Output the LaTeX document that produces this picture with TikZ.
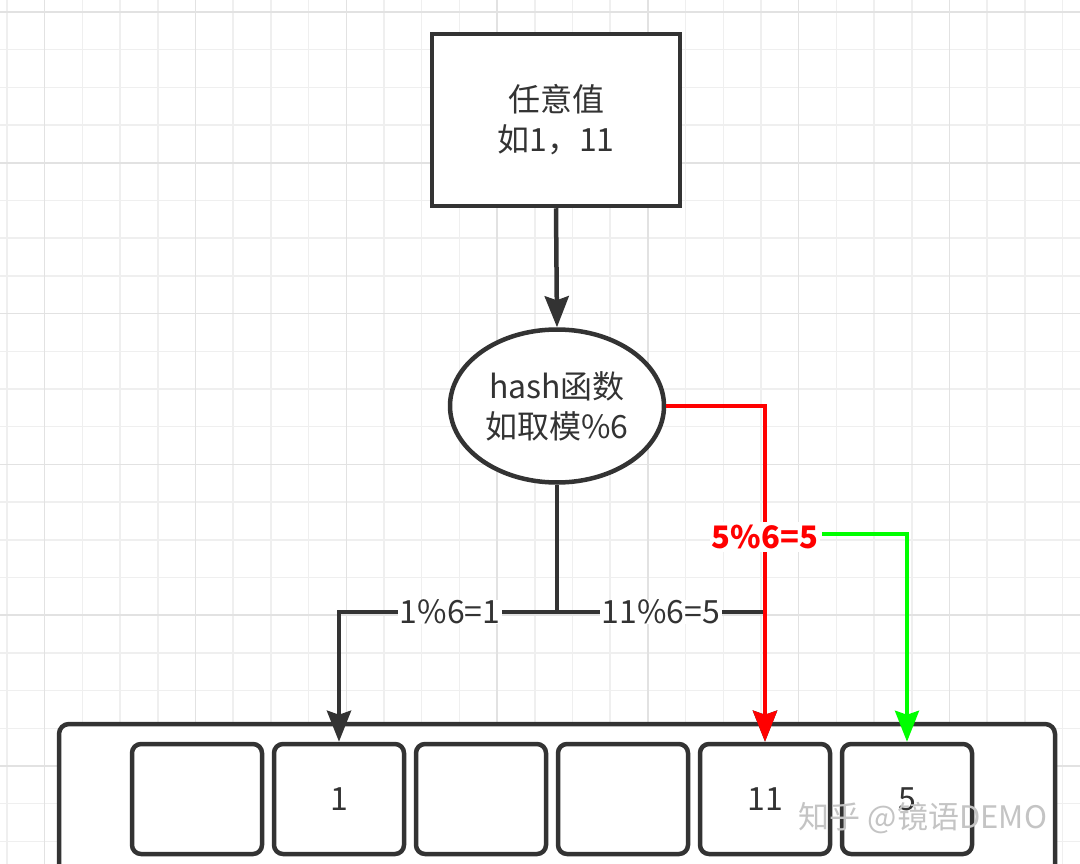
\documentclass[tikz,border=0pt]{standalone}
\usepackage{fontspec}
\setmainfont{Noto Sans CJK SC}
\usetikzlibrary{shapes.geometric,arrows.meta}
\definecolor{ink}{HTML}{333333}
\definecolor{gminor}{HTML}{EFEFEF}
\definecolor{gmajor}{HTML}{E2E2E2}
\definecolor{myred}{HTML}{FF0000}
\definecolor{mygreen}{HTML}{00FF00}
\definecolor{wm}{HTML}{C4C4C4}
\begin{document}
\begin{tikzpicture}[x=1pt,y=-1pt,
  txt/.style={font=\fontsize{32}{40}\selectfont, text=ink},
  box/.style={draw=ink, line width=4.5pt, fill=white, txt, align=center, inner sep=0pt},
  cell/.style={box, rounded corners=9pt, minimum width=130pt, minimum height=110pt},
  tip/.style={-{Stealth[length=31pt,width=24pt,inset=4pt]}},
  edge/.style={draw=ink, line width=4.5pt, tip},
  rededge/.style={draw=myred, line width=4pt, tip},
  greenedge/.style={draw=mygreen, line width=3.5pt, tip},
  lab/.style={txt, fill=white, inner xsep=2pt, inner ysep=0pt},
  redlab/.style={font=\bfseries\fontsize{31}{40}\selectfont, text=myred, fill=white, inner xsep=2pt, inner ysep=3pt},
  gridminor/.style={draw=gminor, line width=1.5pt},
  gridmajor/.style={draw=gmajor, line width=1.5pt}
]
\useasboundingbox (0,0) rectangle (1080,864);
\clip (0,0) rectangle (1080,864);
\fill[white] (0,0) rectangle (1080,864);
% grid
\foreach \i in {0,...,28} { \draw[gridminor] ({7+37.7*\i},0) -- ({7+37.7*\i},864); }
\foreach \j in {0,...,22} { \draw[gridminor] (0,{12+37.7*\j}) -- (1080,{12+37.7*\j}); }
\foreach \i in {1,5,9,13,17,21,25} { \draw[gridmajor] ({7+37.7*\i},0) -- ({7+37.7*\i},864); }
\foreach \j in {0,4,8,12,16,20} { \draw[gridmajor] (0,{12+37.7*\j}) -- (1080,{12+37.7*\j}); }

% nodes
\node[box, minimum width=248pt, minimum height=172pt] (src) at (556,120) {任意值\\如1，11};
\node[box, ellipse, minimum width=214pt, minimum height=153pt] (hash) at (557,406) {hash函数\\如取模\%6};
\node[draw=ink, line width=4.5pt, fill=white, rounded corners=10pt, minimum width=996pt, minimum height=176pt] (outer) at (557,812) {};
\foreach \k/\t in {0/,1/1,2/,3/,4/11,5/5} {
  \node[cell] (c\k) at ({197+142*\k},799) {\t};
}
\coordinate (j) at (557,612);

% connectors
\draw[edge] (src.south) -- (hash.north);
\draw[edge] (hash.south) -- (j) -| node[lab, pos=0.245] {1\%6=1} (c1.north);
\draw[edge] (j) -| node[lab, pos=0.25] {11\%6=5} (c4.north);
\draw[rededge] (hash.east) -| node[redlab, pos=0.695] (rl) {5\%6=5} (c4.north);
\draw[greenedge] ([yshift=3pt]rl.east) -| (c5.north);

% watermark
\node[font=\fontsize{31}{31}\selectfont, text=wm] (wmk) at (923,818) {知乎 @镜语DEMO};
\end{tikzpicture}
\end{document}
